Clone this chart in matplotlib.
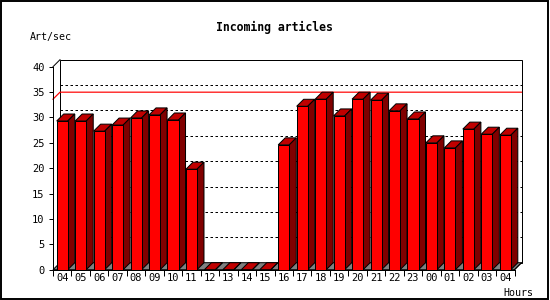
import matplotlib
matplotlib.use('Agg')
import matplotlib.pyplot as plt
from matplotlib.patches import Polygon, Rectangle
from matplotlib.lines import Line2D
from matplotlib.ticker import FixedLocator

# ---- data ----
hours = ['04', '05', '06', '07', '08', '09', '10', '11', '12', '13', '14', '15',
         '16', '17', '18', '19', '20', '21', '22', '23', '00', '01', '02', '03', '04']
rates = [29.3, 29.3, 27.3, 28.5, 29.9, 30.5, 29.5, 19.8, 0, 0, 0, 0,
         24.6, 32.2, 33.6, 30.3, 33.6, 33.4, 31.3, 29.7, 25.0, 24.0, 27.7, 26.7, 26.5]
y_ticks = [0, 5, 10, 15, 20, 25, 30, 35, 40]
title = 'Incoming articles'
y_label = 'Art/sec'
x_label = 'Hours'
max_rate = max(rates)

# ---- styling ----
FRONT = '#FF0000'
TOP = '#C00000'
SIDE = '#800000'
FLOOR = '#808080'
LW = 0.72
MONO = 'DejaVu Sans Mono'

W, H = 550, 300
fig = plt.figure(figsize=(5.5, 3), dpi=100)
fig.patch.set_facecolor('white')
Lpx, Rpx, Tpx, Bpx = 53, 514.5, 66.7, 269.7
ax = fig.add_axes([Lpx / W, (H - Bpx) / H, (Rpx - Lpx) / W, (Bpx - Tpx) / H])
n = len(hours)
ymax = y_ticks[-1]
ax.set_xlim(0, n)
ax.set_ylim(0, ymax)
ax.set_facecolor('none')
DEPTH = 7
DX = n * DEPTH / (Rpx - Lpx)
DY = ymax * DEPTH / (Bpx - Tpx)

# back wall
ax.add_patch(Polygon([(DX, DY), (n + DX, DY), (n + DX, ymax + DY), (DX, ymax + DY)],
                     closed=True, facecolor='white', edgecolor='black', lw=LW,
                     clip_on=False, zorder=1))
# left wall top diagonal
ax.add_line(Line2D([0, DX], [ymax, ymax + DY], color='black', lw=LW, clip_on=False, zorder=1))

# grid lines on back wall
for v in y_ticks[1:-1]:
    ax.add_line(Line2D([DX, n + DX], [v + DY, v + DY], color='black', lw=LW,
                       linestyle=(0, (2.5, 2.5)), clip_on=False, zorder=1.2))

# max line
ax.add_line(Line2D([0, DX, n + DX], [max_rate, max_rate + DY, max_rate + DY],
                   color='red', lw=LW * 1.2, clip_on=False, zorder=1.3))

# floor
ax.add_patch(Polygon([(0, 0), (n, 0), (n + DX, DY), (DX, DY)], closed=True,
                     facecolor=FLOOR, edgecolor='black', lw=LW, clip_on=False, zorder=1.5))

# bars
bw = 0.6
for i, v in enumerate(rates):
    x0 = i + 0.5 - bw / 2
    x1 = x0 + bw
    # top
    ax.add_patch(Polygon([(x0, v), (x1, v), (x1 + DX, v + DY), (x0 + DX, v + DY)],
                         closed=True, facecolor=TOP, edgecolor='black', lw=LW,
                         clip_on=False, zorder=2))
    # side
    ax.add_patch(Polygon([(x1, 0), (x1 + DX, DY), (x1 + DX, v + DY), (x1, v)],
                         closed=True, facecolor=SIDE, edgecolor='black', lw=LW,
                         clip_on=False, zorder=2))
    # front
    if v > 0:
        ax.add_patch(Rectangle((x0, 0), bw, v, facecolor=FRONT, edgecolor='black',
                               lw=LW, clip_on=False, zorder=2.1))

# right-bottom diagonal
ax.add_line(Line2D([n, n + DX], [0, DY], color='black', lw=LW, clip_on=False, zorder=2.2))

# axes / ticks
for s in ['top', 'right']:
    ax.spines[s].set_visible(False)
for s in ['left', 'bottom']:
    ax.spines[s].set_linewidth(LW)
    ax.spines[s].set_zorder(3)
ax.set_yticks(y_ticks)
ax.set_yticklabels([str(t) for t in y_ticks], fontfamily=MONO, fontsize=7.5)
ax.tick_params(axis='y', length=3, width=LW, pad=3)
ax.xaxis.set_major_locator(FixedLocator(list(range(n + 1))))
ax.xaxis.set_minor_locator(FixedLocator([i + 0.5 for i in range(n)]))
ax.set_xticklabels([''] * (n + 1))
ax.set_xticklabels(hours, minor=True, fontfamily=MONO, fontsize=7.5)
ax.tick_params(axis='x', which='major', length=4, width=LW)
ax.tick_params(axis='x', which='minor', length=0, pad=2.5)

# texts
fig.text(274 / W, 1 - 27 / H, title, ha='center', va='center', fontfamily=MONO,
         fontweight='bold', fontsize=8.3)
fig.text(30 / W, 1 - 37 / H, y_label, ha='left', va='center', fontfamily=MONO, fontsize=7.2)
fig.text(533 / W, 1 - 293 / H, x_label, ha='right', va='center', fontfamily=MONO, fontsize=7.2)

# outer border
fig.patches.append(Rectangle((0.75 / W, 1.5 / H), 547 / W, 297.5 / H,
                             transform=fig.transFigure, fill=False,
                             edgecolor='black', lw=1.4, figure=fig))

fig.savefig('out.png', dpi=100, facecolor='white')
